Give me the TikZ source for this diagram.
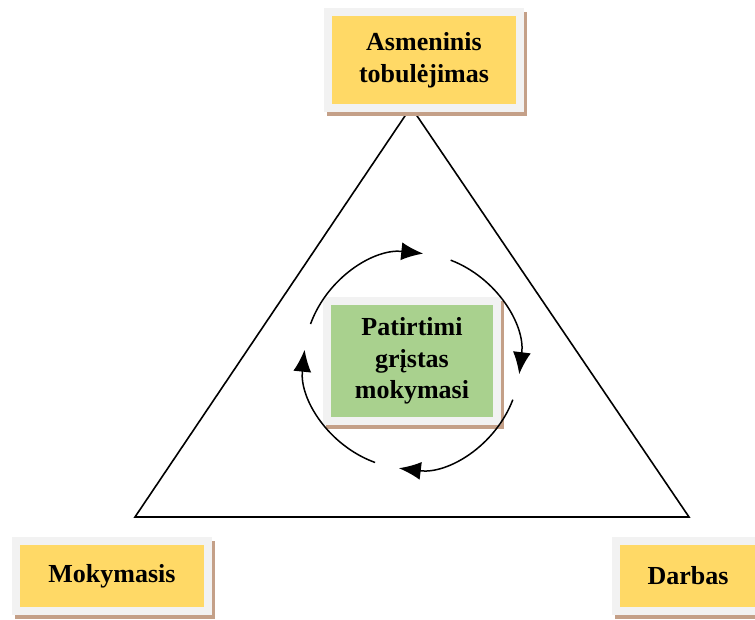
\documentclass[tikz,border=0pt]{standalone}
\usepackage{fontspec}
\setmainfont{Liberation Serif}
\usetikzlibrary{arrows.meta, shadows, calc}
\definecolor{boxyellow}{HTML}{FFD966}
\definecolor{boxgreen}{HTML}{A9D18E}
\definecolor{framegrey}{HTML}{F2F2F2}
\definecolor{shadowbrown}{HTML}{C4A088}
\tikzstyle{framebox} = [
    rectangle,
    draw=framegrey,
    line width=8pt,
    inner sep=0pt,
    align=center,
    font=\fontsize{26}{32}\selectfont\bfseries,
    drop shadow={shadow xshift=3pt, shadow yshift=-4pt, fill=shadowbrown,
        draw=shadowbrown, line width=8pt, opacity=1}
]
\tikzstyle{corner} = [framebox, fill=boxyellow]
\tikzstyle{core} = [framebox, fill=boxgreen, font=\fontsize{26}{31.5}\selectfont\bfseries]
\tikzset{cyclearrow/.style={line width=1.5pt,
    arrows={-Latex[length=22pt, width=18pt]}}}

\begin{document}
\begin{tikzpicture}[x=1pt, y=1pt]

\useasboundingbox (0,0) rectangle (755,619);
\clip (0,0) rectangle (755,619);

% triangle corners
\coordinate (apex) at (411,512);
\coordinate (baseleft) at (135,102);
\coordinate (baseright) at (689,102);
\draw [line width=1.6pt] (apex) -- (baseleft) -- (baseright) -- cycle;

\node (personal) [corner, minimum width=192pt, minimum height=96pt] at (424,559)
{Asmeninis\\tobulėjimas};

\node (learning) [core, minimum width=170pt, minimum height=120pt] at (412,258)
{Patirtimi\\grįstas\\mokymasi};

\node (study) [corner, minimum width=192pt, minimum height=70pt] at (112,43)
{Mokymasis};

\node (work) [corner, minimum width=144pt, minimum height=70pt] at (688,43)
{Darbas};

% learning cycle
\foreach \a in {160, 69, -21, -110}
    \draw [cyclearrow] ($(learning.center)+(\a:108pt)$)
        arc [start angle=\a, end angle=\a-76, radius=108pt];

\end{tikzpicture}
\end{document}
